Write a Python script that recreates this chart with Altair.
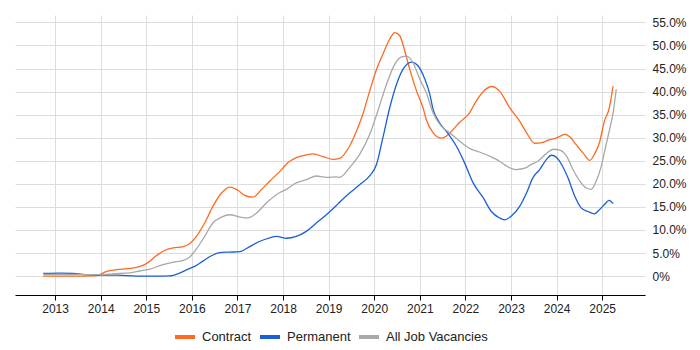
import altair as alt
import pandas as pd

series_names = ["Contract", "Permanent", "All Job Vacancies"]
series_colors = ["#ff6a21", "#1a5fd8", "#a8a8a8"]

contract_years = [2012.74, 2013.2, 2013.6, 2013.91, 2014.13, 2014.35, 2014.64, 2014.86, 2015.00,
                  2015.22, 2015.41, 2015.59, 2015.81, 2015.95, 2016.10, 2016.28, 2016.46, 2016.65,
                  2016.83, 2017.01, 2017.16, 2017.34, 2017.53, 2017.71, 2017.93, 2018.11, 2018.29,
                  2018.48, 2018.66, 2018.88, 2019.10, 2019.24, 2019.46, 2019.61, 2019.75, 2019.90,
                  2020.05, 2020.19, 2020.34, 2020.45, 2020.56, 2020.67, 2020.78, 2020.93, 2021.07,
                  2021.14, 2021.29, 2021.47, 2021.58, 2021.73, 2021.87, 2022.09, 2022.24, 2022.42,
                  2022.57, 2022.75, 2022.97, 2023.19, 2023.34, 2023.52, 2023.70, 2023.85, 2023.96,
                  2024.07, 2024.18, 2024.29, 2024.43, 2024.58, 2024.73, 2024.83, 2024.94, 2025.05,
                  2025.15, 2025.24]
contract_values = [0.0, 0.0, 0.0, 0.1, 1.0, 1.4, 1.65, 2.1, 2.7,
                   4.4, 5.6, 6.1, 6.4, 7.0, 8.6, 11.5, 15.1, 18.0,
                   19.3, 18.6, 17.5, 17.1, 18.8, 20.6, 22.7, 24.6, 25.7,
                   26.2, 26.5, 25.9, 25.3, 25.5, 28.2, 31.4, 35.1, 40.1,
                   44.8, 48.1, 51.4, 52.8, 52.1, 48.8, 44.8, 40.1, 36.5,
                   34.0, 31.1, 29.9, 30.3, 31.8, 33.3, 35.4, 38.0, 40.3,
                   41.1, 40.1, 36.5, 33.6, 31.1, 28.8, 29.0, 29.6, 29.8,
                   30.3, 30.7, 30.2, 28.5, 26.7, 25.1, 26.4, 28.9, 33.6,
                   36.2, 41.2]

permanent_years = [2012.74, 2013.10, 2013.39, 2013.69, 2013.98, 2014.35, 2014.79, 2015.22, 2015.51,
                   2015.73, 2015.92, 2016.06, 2016.25, 2016.43, 2016.61, 2016.83, 2017.05, 2017.27,
                   2017.48, 2017.71, 2017.86, 2018.07, 2018.29, 2018.51, 2018.73, 2018.95, 2019.17,
                   2019.24, 2019.46, 2019.68, 2019.90, 2020.05, 2020.19, 2020.34, 2020.49, 2020.63,
                   2020.82, 2020.96, 2021.11, 2021.22, 2021.29, 2021.43, 2021.62, 2021.80, 2021.98,
                   2022.17, 2022.39, 2022.57, 2022.75, 2022.86, 2023.01, 2023.19, 2023.34, 2023.48,
                   2023.63, 2023.78, 2023.89, 2024.00, 2024.11, 2024.25, 2024.40, 2024.54, 2024.69,
                   2024.83, 2024.94, 2025.05, 2025.15, 2025.24]
permanent_values = [0.6, 0.65, 0.6, 0.3, 0.2, 0.2, 0.0, 0.0, 0.05,
                    0.65, 1.5, 2.1, 3.3, 4.4, 5.1, 5.2, 5.3, 6.4,
                    7.5, 8.3, 8.6, 8.2, 8.6, 9.7, 11.5, 13.3, 15.3,
                    16.0, 18.0, 19.8, 21.7, 24.2, 30.0, 36.5, 41.6, 44.8,
                    46.4, 45.6, 42.7, 39.4, 36.2, 33.3, 30.9, 28.2, 24.6,
                    20.2, 17.0, 14.0, 12.6, 12.2, 13.0, 15.1, 18.0, 21.3,
                    23.1, 25.3, 26.2, 25.7, 24.2, 21.3, 17.3, 14.8, 14.0,
                    13.5, 14.4, 15.5, 16.4, 15.7]

all_years = [2012.74, 2013.5, 2013.98, 2014.27, 2014.64, 2014.86, 2015.08, 2015.37, 2015.59,
             2015.81, 2015.95, 2016.10, 2016.28, 2016.46, 2016.65, 2016.83, 2017.05, 2017.23,
             2017.42, 2017.64, 2017.86, 2018.07, 2018.29, 2018.51, 2018.73, 2018.95, 2019.17,
             2019.24, 2019.46, 2019.68, 2019.90, 2020.08, 2020.27, 2020.45, 2020.60, 2020.71,
             2020.85, 2021.00, 2021.14, 2021.29, 2021.47, 2021.65, 2021.87, 2022.09, 2022.31,
             2022.53, 2022.75, 2022.93, 2023.11, 2023.34, 2023.41, 2023.59, 2023.78, 2023.93,
             2024.07, 2024.22, 2024.36, 2024.51, 2024.65, 2024.76, 2024.87, 2024.98, 2025.08,
             2025.18, 2025.24, 2025.31]
all_values = [0.35, 0.35, 0.3, 0.5, 0.7, 1.1, 1.5, 2.5, 3.0,
              3.4, 4.1, 5.9, 8.6, 11.5, 12.8, 13.3, 12.8, 12.6,
              13.7, 15.9, 17.7, 18.8, 20.2, 20.9, 21.7, 21.4, 21.5,
              21.4, 23.5, 26.4, 30.7, 35.8, 41.6, 45.9, 47.5, 47.7,
              46.3, 42.7, 39.8, 35.4, 32.5, 31.1, 29.3, 27.7, 26.9,
              26.0, 24.9, 23.7, 23.1, 23.5, 24.0, 24.9, 26.6, 27.5,
              27.3, 26.0, 23.1, 20.6, 19.1, 18.8, 20.6, 23.8, 28.2,
              32.5, 35.4, 40.5]

year_ticks = list(range(2013, 2026))
pct_ticks = [0, 5, 10, 15, 20, 25, 30, 35, 40, 45, 50, 55]

frames = []
for name, ys, vs in [(series_names[0], contract_years, contract_values),
                     (series_names[1], permanent_years, permanent_values),
                     (series_names[2], all_years, all_values)]:
    frames.append(pd.DataFrame({"year": ys, "value": vs, "series": name}))
df = pd.concat(frames, ignore_index=True)

font = "Liberation Sans"

chart = alt.Chart(df).mark_line(strokeWidth=1.3, interpolate="monotone").encode(
    x=alt.X("year:Q",
            scale=alt.Scale(domain=[2012.12, 2025.94], nice=False, zero=False),
            axis=alt.Axis(values=year_ticks, format="d", title=None, grid=True,
                          gridColor="#dddddd", domainColor="#000000", tickColor="#000000",
                          tickSize=5, labelFontSize=12, labelColor="#222222",
                          labelFont=font, labelPadding=3)),
    y=alt.Y("value:Q",
            scale=alt.Scale(domain=[-4.1, 56.6], nice=False, zero=False),
            axis=alt.Axis(values=pct_ticks, orient="right", title=None, grid=True,
                          gridColor="#dddddd", domain=False, ticks=False,
                          labelPadding=7, labelFontSize=12, labelColor="#222222",
                          labelFont=font,
                          labelExpr="datum.value == 0 ? '0%' : format(datum.value, '.1f') + '%'")),
    color=alt.Color("series:N",
                    scale=alt.Scale(domain=series_names, range=series_colors),
                    legend=alt.Legend(orient="none", legendX=158, legendY=310,
                                      direction="horizontal", title=None, symbolType="stroke",
                                      symbolStrokeWidth=4, symbolSize=400,
                                      labelFontSize=13, labelFont=font, labelColor="#222222",
                                      columnPadding=0, labelOffset=5)),
    order=alt.Order("year:Q"),
).properties(
    width=630, height=280,
    padding={"left": 7, "top": 7, "right": 5, "bottom": 5},
).configure_view(stroke=None)

chart.save("out.html", embed_options={"renderer": "svg", "actions": False})
